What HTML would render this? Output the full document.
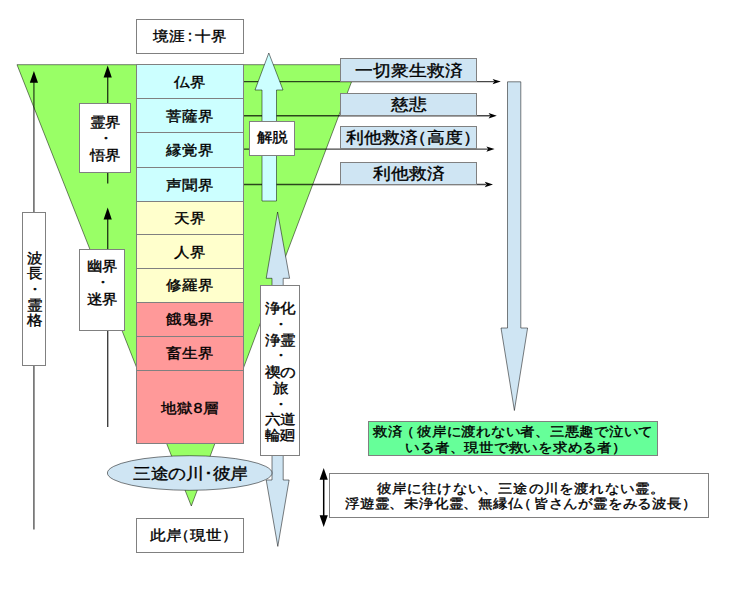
<!DOCTYPE html>
<html lang="ja">
<head>
<meta charset="utf-8">
<style>
html,body{margin:0;padding:0;background:#fff;}
body{width:744px;height:591px;overflow:hidden;position:relative;font-family:"Liberation Sans",sans-serif;color:#000;-webkit-text-stroke:0.4px #000;}
svg{position:absolute;left:0;top:0;}
.b{position:absolute;box-sizing:border-box;border:1px solid #808080;display:flex;align-items:center;justify-content:center;text-align:center;white-space:nowrap;}
.w{background:#fff;}
.c{background:#ccffff;}
.y{background:#ffffcc;}
.r{background:#ff9999;}
.lb{background:#cfe5f3;}
.f16{font-size:16px;line-height:16px;}
.f15{font-size:15px;line-height:17.78px;}
.f18{font-size:18px;line-height:18px;}
.po2{margin-left:-0.5em;}
.pc2{margin-right:-0.5em;}
.po{position:relative;left:-0.15em;}
.pc{}
.f14{font-size:14.5px;line-height:17.22px;letter-spacing:-0.25px;}
.b>span{position:relative;top:0.4px;display:inline-block;transform:scaleY(0.9);}
</style>
</head>
<body>
<svg width="744" height="591" viewBox="0 0 744 591">
  <!-- green triangle -->
  <polygon points="17,64.7 358,64.7 191.3,506" fill="#99ff66" stroke="#000" stroke-opacity="0.5" stroke-width="1"/>
  <!-- left long line with arrow -->
  <line x1="33.9" y1="529.5" x2="33.9" y2="80" stroke="#000" stroke-opacity="0.62" stroke-width="1.5"/>
  <polygon points="33.9,70.9 29.8,82.8 38,82.8" fill="#000"/>
  <!-- 霊界 arrow -->
  <line x1="107.7" y1="183.6" x2="107.7" y2="74" stroke="#000" stroke-opacity="0.75" stroke-width="1.4"/>
  <polygon points="107.7,65.5 103.6,77.4 111.8,77.4" fill="#000"/>
  <!-- 幽界 arrow -->
  <line x1="107.7" y1="427" x2="107.7" y2="216" stroke="#000" stroke-opacity="0.75" stroke-width="1.4"/>
  <polygon points="107.7,207.5 103.6,219.4 111.8,219.4" fill="#000"/>
  <!-- horizontal lines to right boxes -->
  <line x1="243" y1="81.6" x2="494" y2="81.6" stroke="#000" stroke-opacity="0.72" stroke-width="1.4"/>
  <polygon points="500.8,81.6 492.6,78.9 494.4,81.6 492.6,84.3" fill="#000"/>
  <line x1="243" y1="115.8" x2="490" y2="115.8" stroke="#000" stroke-opacity="0.72" stroke-width="1.4"/>
  <polygon points="496.8,115.8 488.6,113.1 490.4,115.8 488.6,118.5" fill="#000"/>
  <line x1="243" y1="149.1" x2="488" y2="149.1" stroke="#000" stroke-opacity="0.72" stroke-width="1.4"/>
  <polygon points="494.6,149.1 486.4,146.4 488.2,149.1 486.4,151.8" fill="#000"/>
  <line x1="243" y1="184.5" x2="486" y2="184.5" stroke="#000" stroke-opacity="0.72" stroke-width="1.4"/>
  <polygon points="493,184.5 484.8,181.8 486.6,184.5 484.8,187.2" fill="#000"/>
  <!-- 解脱 arrow -->
  <polygon points="268.8,53 283,90 276.5,90 276.5,201 262,201 262,90 255,90" fill="#ccffff" stroke="#000" stroke-opacity="0.5" stroke-width="1"/>
  <!-- double arrow (浄化) -->
  <polygon points="277.6,212 289.6,278.3 283.2,278.3 283.2,480 289.1,480 277.8,546.4 266.2,480 272,480 272,278.3 266.2,278.3" fill="#cfe5f3" stroke="#000" stroke-opacity="0.5" stroke-width="1"/>
  <!-- big down arrow -->
  <polygon points="507.5,81.8 520.8,81.8 520.8,328 527.6,328 514.4,410.5 501,328 507.5,328" fill="#cfe5f3" stroke="#000" stroke-opacity="0.5" stroke-width="1"/>
  <!-- ellipse -->
  <ellipse cx="189.7" cy="473" rx="82.3" ry="17.3" fill="#cfe5f3" stroke="#000" stroke-opacity="0.5" stroke-width="1"/>
  <!-- double-headed arrow -->
  <line x1="323.7" y1="476" x2="323.7" y2="519" stroke="#000" stroke-width="1.5"/>
  <polygon points="323.7,468 319.6,479.8 327.8,479.8" fill="#000"/>
  <polygon points="323.7,527 319.6,515.2 327.8,515.2" fill="#000"/>
</svg>

<!-- column -->
<div class="b w f16" style="left:136px;top:19px;width:108px;height:35px;"><span>境涯<span style="margin:0 2.6px 0 2.6px">:</span>十界</span></div>
<div class="b c f16" style="left:136px;top:64px;width:108px;height:35px;"><span>仏界</span></div>
<div class="b c f16" style="left:136px;top:98px;width:108px;height:35px;"><span>菩薩界</span></div>
<div class="b c f16" style="left:136px;top:132px;width:108px;height:36px;"><span>縁覚界</span></div>
<div class="b c f16" style="left:136px;top:167px;width:108px;height:35px;"><span>声聞界</span></div>
<div class="b y f16" style="left:136px;top:201px;width:108px;height:34px;"><span>天界</span></div>
<div class="b y f16" style="left:136px;top:234px;width:108px;height:35px;"><span>人界</span></div>
<div class="b y f16" style="left:136px;top:268px;width:108px;height:35px;"><span>修羅界</span></div>
<div class="b r f16" style="left:136px;top:302px;width:108px;height:35px;"><span>餓鬼界</span></div>
<div class="b r f16" style="left:136px;top:336px;width:108px;height:35px;"><span>畜生界</span></div>
<div class="b r f16" style="left:136px;top:370px;width:108px;height:74px;"><span style="top:2px">地獄<span style="margin:0 1px">8</span>層</span></div>
<div class="b w f16" style="left:136px;top:518px;width:108px;height:35px;"><span>此岸<span class="po2">（</span>現世<span class="pc2">）</span></span></div>

<!-- ellipse text -->
<div style="position:absolute;left:108px;top:463.7px;width:165px;height:20px;text-align:center;font-size:18px;letter-spacing:-0.25px;transform:scaleY(0.9);line-height:20px;white-space:nowrap;">三途の川･彼岸</div>

<!-- left boxes -->
<div class="b w f15" style="left:79px;top:103px;width:52px;height:70px;"><span>霊界<br>・<br>悟界</span></div>
<div class="b w f15" style="left:79px;top:249px;width:46px;height:82px;"><span style="top:-7px">幽界<br>・<br>迷界</span></div>
<div class="b w f15" style="left:22px;top:212px;width:24px;height:154px;"><span style="line-height:17.22px">波<br>長<br>・<br>霊<br>格</span></div>

<!-- 解脱 -->
<div class="b w f15" style="left:249px;top:121px;width:46px;height:35px;"><span style="top:-1px">解脱</span></div>
<!-- 浄化 box -->
<div class="b w f15" style="left:260px;top:285px;width:40px;height:171px;"><span style="top:1.2px">浄化<br>・<br>浄霊<br>・<br>禊の<br>旅<br>・<br>六道<br>輪廻</span></div>

<!-- right boxes -->
<div class="b lb f18" style="left:340px;top:58px;width:137px;height:24px;"><span style="top:1.4px">一切衆生救済</span></div>
<div class="b lb f18" style="left:340px;top:93px;width:137px;height:23px;"><span>慈悲</span></div>
<div class="b lb f18" style="left:340px;top:126px;width:137px;height:23px;"><span>利他救済<span class="po2">（</span>高度<span class="pc2">）</span></span></div>
<div class="b lb f18" style="left:340px;top:162px;width:137px;height:23px;"><span>利他救済</span></div>

<!-- green box -->
<div class="b f14" style="left:368px;top:421px;width:290px;height:35px;background:#66ff99;"><span style="top:1.5px">救済<span class="po">（</span>彼岸に渡れない者、三悪趣で泣いて<br>いる者、現世で救いを求める者<span class="pc" style="margin-right:-0.4em">）</span></span></div>
<!-- white note box -->
<div class="b w f14" style="left:329px;top:473px;width:380px;height:45px;line-height:16.22px;letter-spacing:-0.2px;"><span><span style="letter-spacing:0.2px;position:relative;left:2px">彼岸に往けない、三途の川を渡れない霊。</span><br>浮遊霊、未浄化霊、無縁仏<span class="po" style="margin-left:-0.25em">（</span>皆さんが霊をみる波長<span class="pc" style="margin-right:-0.25em">）</span></span></div>
</body>
</html>
